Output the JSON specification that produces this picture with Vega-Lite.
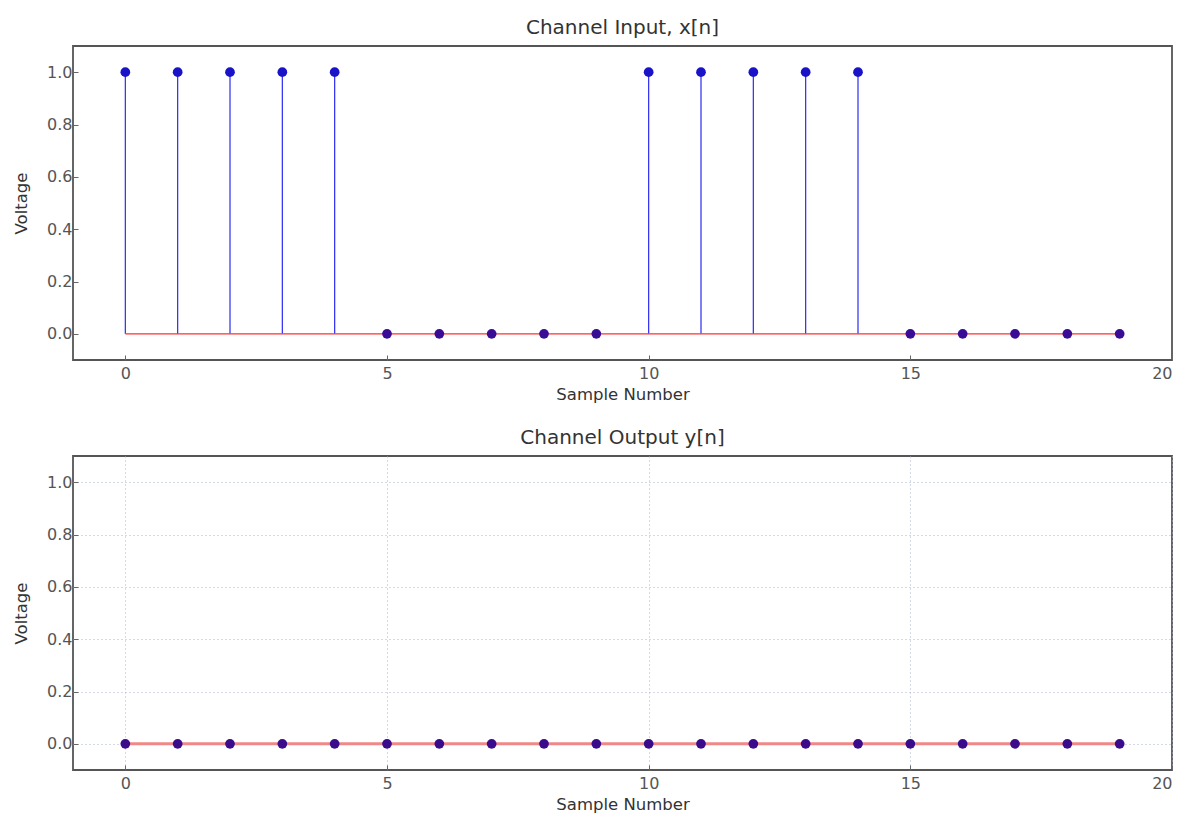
{
  "$schema": "https://vega.github.io/schema/vega-lite/v6.json",
  "background": "white",
  "padding": {"left": 12, "top": 17, "right": 5, "bottom": 5},
  "config": {
    "font": "DejaVu Sans",
    "view": {"stroke": "#555555", "strokeWidth": 1.8},
    "title": {"fontSize": 20, "fontWeight": "normal", "color": "#333333", "offset": 8},
    "axis": {
      "labelFont": "DejaVu Sans", "labelFontSize": 16, "labelColor": "#555555",
      "titleFont": "DejaVu Sans", "titleFontSize": 16.5, "titleFontWeight": "normal", "titleColor": "#333333",
      "domain": false, "tickColor": "#666666", "tickSize": -5, "labelPadding": 6, "titlePadding": 4
    },
    "axisX": {"labelPadding": 10, "titlePadding": 5},
    "concat": {"spacing": 23}
  },
  "datasets": {
    "input": [
      {"n": 0, "v": 1}, {"n": 1, "v": 1}, {"n": 2, "v": 1}, {"n": 3, "v": 1}, {"n": 4, "v": 1},
      {"n": 5, "v": 0}, {"n": 6, "v": 0}, {"n": 7, "v": 0}, {"n": 8, "v": 0}, {"n": 9, "v": 0},
      {"n": 10, "v": 1}, {"n": 11, "v": 1}, {"n": 12, "v": 1}, {"n": 13, "v": 1}, {"n": 14, "v": 1},
      {"n": 15, "v": 0}, {"n": 16, "v": 0}, {"n": 17, "v": 0}, {"n": 18, "v": 0}, {"n": 19, "v": 0}
    ],
    "output": [
      {"n": 0, "v": 0}, {"n": 1, "v": 0}, {"n": 2, "v": 0}, {"n": 3, "v": 0}, {"n": 4, "v": 0},
      {"n": 5, "v": 0}, {"n": 6, "v": 0}, {"n": 7, "v": 0}, {"n": 8, "v": 0}, {"n": 9, "v": 0},
      {"n": 10, "v": 0}, {"n": 11, "v": 0}, {"n": 12, "v": 0}, {"n": 13, "v": 0}, {"n": 14, "v": 0},
      {"n": 15, "v": 0}, {"n": 16, "v": 0}, {"n": 17, "v": 0}, {"n": 18, "v": 0}, {"n": 19, "v": 0}
    ]
  },
  "vconcat": [
    {
      "title": "Channel Input, x[n]",
      "width": 1099,
      "height": 314,
      "data": {"name": "input"},
      "encoding": {
        "x": {"field": "n", "type": "quantitative", "title": "Sample Number",
              "scale": {"domain": [-1, 20], "nice": false, "zero": false},
              "axis": {"values": [0, 5, 10, 15, 20], "grid": false}},
        "y": {"field": "v", "type": "quantitative", "title": "Voltage",
              "scale": {"domain": [-0.1, 1.1], "nice": false, "zero": false},
              "axis": {"values": [0, 0.2, 0.4, 0.6, 0.8, 1.0], "format": ".1f", "grid": false, "titlePadding": 17}}
      },
      "layer": [
        {"mark": {"type": "rule", "color": "#2a2af0", "strokeWidth": 1.2},
         "encoding": {"y2": {"datum": 0}}},
        {"mark": {"type": "line", "color": "#ff3030", "strokeWidth": 1.2},
         "encoding": {"y": {"datum": 0}}},
        {"mark": {"type": "circle", "size": 95, "opacity": 1},
         "encoding": {"color": {"condition": {"test": "datum.v == 0", "value": "#3a0c96"}, "value": "#1a12c8"}}}
      ]
    },
    {
      "title": "Channel Output y[n]",
      "width": 1099,
      "height": 314,
      "data": {"name": "output"},
      "encoding": {
        "x": {"field": "n", "type": "quantitative", "title": "Sample Number",
              "scale": {"domain": [-1, 20], "nice": false, "zero": false},
              "axis": {"values": [0, 5, 10, 15, 20], "grid": true, "gridColor": "#aab4cc", "gridDash": [1, 3], "gridWidth": 1}},
        "y": {"field": "v", "type": "quantitative", "title": "Voltage",
              "scale": {"domain": [-0.1, 1.1], "nice": false, "zero": false},
              "axis": {"values": [0, 0.2, 0.4, 0.6, 0.8, 1.0], "format": ".1f", "grid": true, "gridColor": "#aab4cc", "gridDash": [1, 3], "gridWidth": 1, "titlePadding": 17}}
      },
      "layer": [
        {"mark": {"type": "line", "color": "#f08888", "strokeWidth": 3},
         "encoding": {"y": {"datum": 0}}},
        {"mark": {"type": "circle", "size": 95, "opacity": 1, "color": "#3a0c8c"}, "encoding": {}}
      ]
    }
  ]
}
